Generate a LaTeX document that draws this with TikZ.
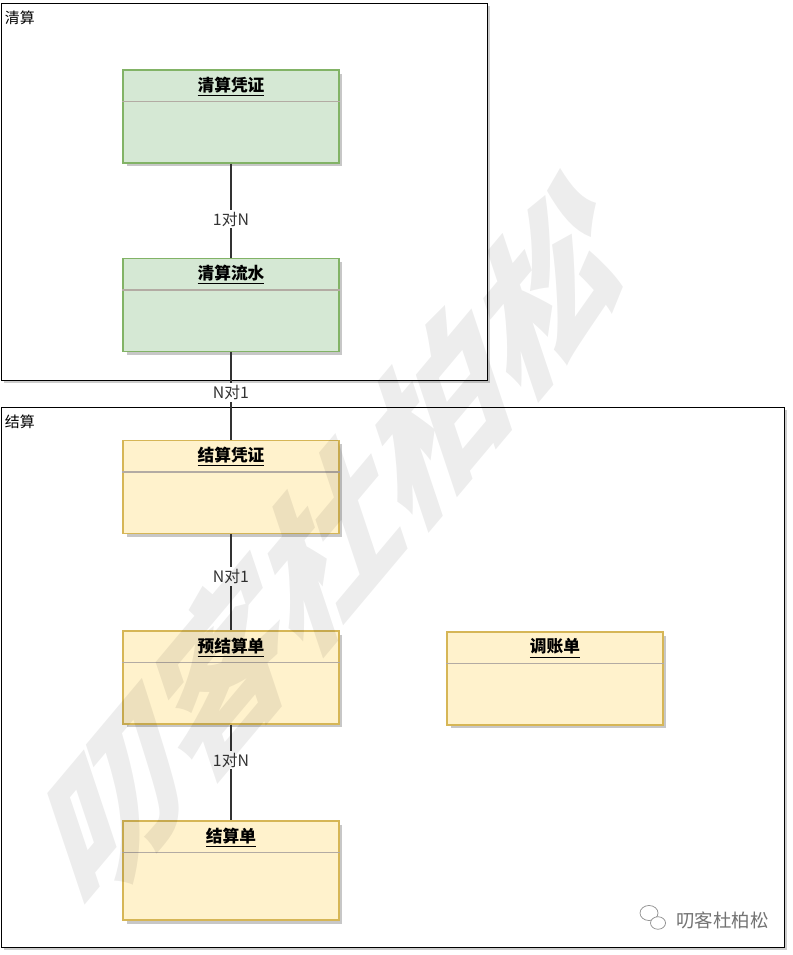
\documentclass[tikz,border=0pt]{standalone}
\usepackage{fontspec}
\setmainfont{Noto Sans CJK SC}
\usetikzlibrary{shadows,positioning,shapes.geometric}
\definecolor{qsfill}{HTML}{D5E8D4}
\definecolor{qsdraw}{HTML}{82B366}
\definecolor{jsfill}{HTML}{FFF2CC}
\definecolor{jsdraw}{HTML}{D6B656}
\definecolor{divgray}{HTML}{B3ABA3}

\begin{document}
\begin{tikzpicture}[x=0.02cm, y=-0.02cm,
      frame/.style={draw, thick, fill=white, anchor=north west, inner sep=0pt,
        drop shadow={shadow xshift=0.05cm, shadow yshift=-0.05cm, fill=black!20, opacity=1}},
      framelbl/.style={anchor=north west, inner sep=2pt, font=\fontsize{8.5}{10}\selectfont},
      cls/.style={draw, thick, minimum width=4.32cm, minimum height=1.86cm, inner sep=0pt,
        drop shadow={shadow xshift=0.07cm, shadow yshift=-0.07cm, fill=black!22, opacity=1}},
      qs/.style={cls, fill=qsfill, draw=qsdraw},
      js/.style={cls, fill=jsfill, draw=jsdraw},
      title/.style={anchor=north, inner sep=0pt, font=\fontsize{9.5}{11}\selectfont\bfseries},
      divider/.style={divgray, thick},
      link/.style={thick, black!80},
      card/.style={fill=white, inner sep=1pt, font=\fontsize{9}{10}\selectfont}
    ]
    \useasboundingbox (0,0) rectangle (792,955);

    % the two packages
    \node[frame, minimum width=9.72cm, minimum height=7.54cm]  (qsarea) at (1,3)   {};
    \node[frame, minimum width=15.66cm, minimum height=10.8cm] (jsarea) at (1,407) {};
    \node[framelbl] (qslbl) at ([yshift=-0.08cm]qsarea.north west) {清算};
    \node[framelbl] (jslbl) at ([yshift=-0.08cm]jsarea.north west) {结算};

    % classes
    \node[qs] (qspz) at (231,116.5) {};
    \node[qs] (qsls) at (231,305)   {};
    \node[js] (jspz) at (231,487)   {};
    \node[js] (yjsd) at (231,677.5) {};
    \node[js] (tzd)  at (555,678.5) {};
    \node[js, minimum height=1.98cm] (jsd) at (231,870.5) {};

    \node[title] (qspzt) at ([yshift=-0.14cm]qspz.north) {\underline{清算凭证}};
    \node[title] (qslst) at ([yshift=-0.14cm]qsls.north) {\underline{清算流水}};
    \node[title] (jspzt) at ([yshift=-0.14cm]jspz.north) {\underline{结算凭证}};
    \node[title] (yjsdt) at ([yshift=-0.14cm]yjsd.north) {\underline{预结算单}};
    \node[title] (tzdt)  at ([yshift=-0.14cm]tzd.north)  {\underline{调账单}};
    \node[title] (jsdt)  at ([yshift=-0.14cm]jsd.north)  {\underline{结算单}};

    \foreach \n in {qspz,qsls,jspz,yjsd,tzd,jsd}
      \draw[divider] ([yshift=-0.64cm]\n.north west) -- ([yshift=-0.64cm]\n.north east);

    % associations
    \draw[link] (qspz) -- node[card, pos=0.59]{1对N} (qsls);
    \draw[link] (qsls) -- node[card, pos=0.46]{N对1} (jspz);
    \draw[link] (jspz) -- node[card, pos=0.44]{N对1} (yjsd);
    \draw[link] (yjsd) -- node[card, pos=0.37]{1对N} (jsd);

    % watermark (slanted, baseline rising at about 50 degrees)
    \begin{scope}[shift={(333,540)}, cm={0.643,0.766,-0.317,0.948,(0,0)}]
      \node[transform shape, text=black, opacity=0.07, font=\fontsize{96}{96}\selectfont\bfseries]
        (mark) at (0,0) {叨客杜柏松};
    \end{scope}
    \node[ellipse, draw=black!45, minimum width=0.36cm, minimum height=0.3cm, inner sep=0pt] (wxa) at (649,913) {};
    \node[ellipse, draw=black!45, fill=white, minimum width=0.3cm, minimum height=0.25cm, inner sep=0pt] (wxb) at (658,923) {};
    \node[anchor=west, text=black!55, font=\fontsize{10.5}{12}\selectfont] (logo) at (670,920) {叨客杜柏松};
  \end{tikzpicture}
\end{document}
